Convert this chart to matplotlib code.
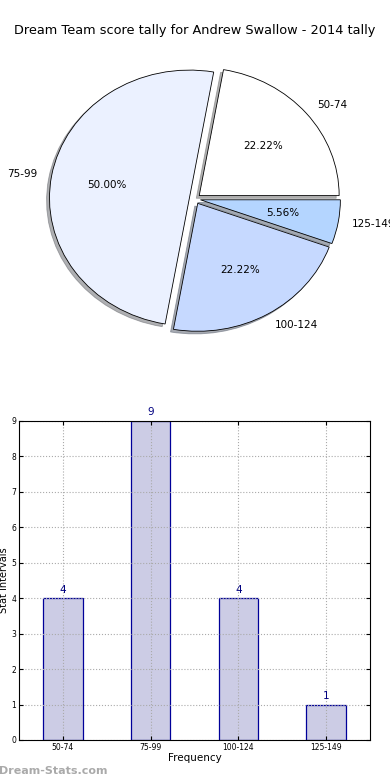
import matplotlib
matplotlib.use("Agg")
import matplotlib.pyplot as plt

categories = ['50-74', '75-99', '100-124', '125-149']
counts = [4, 9, 4, 1]
pie_colors = ['#FFFFFF', '#EBF1FF', '#C6D9FF', '#B4D5FF']
explode = [0.04, 0.04, 0.04, 0.04]

title = 'Dream Team score tally for Andrew Swallow - 2014 tally'

fig = plt.figure(figsize=(3.9, 7.8), dpi=100)

# pie, drawn unequal aspect like the old matplotlib output
ax1 = fig.add_axes([0.0513, 0.540, 0.897, 0.410])
wedges, texts, autotexts = ax1.pie(counts, labels=categories, colors=pie_colors,
                                   explode=explode, autopct='%1.2f%%',
                                   shadow={'ox': -0.015, 'oy': -0.015, 'shade': 0.6},
                                   startangle=0, counterclock=True,
                                   wedgeprops=dict(edgecolor='black', linewidth=0.6),
                                   textprops=dict(fontsize=7.5))
ax1.set_aspect('auto')
ax1.set_xlim(-1.25, 1.25)
ax1.set_ylim(-1.25, 1.25)
fig.text(0.5, 0.961, title, ha='center', va='center', fontsize=9.3)

# bar chart
ax2 = fig.add_axes([0.0487, 0.0513, 0.9, 0.409])
x = range(len(categories))
ax2.bar(x, counts, width=0.45, color='#CCCCE5', edgecolor='#000099', linewidth=0.9)
for xi, c in zip(x, counts):
    ax2.text(xi, c + 0.1, str(c), ha='center', va='bottom', color='#000080', fontsize=7.5)
ax2.set_xlim(-0.5, 3.5)
ax2.set_ylim(0, 9)
ax2.set_xticks(list(x))
ax2.set_xticklabels(categories)
ax2.set_yticks(range(10))
ax2.tick_params(labelsize=5.5, direction='in', top=True, right=True, length=3, pad=2)
ax2.grid(True, linestyle=':', color='#AAAAAA', linewidth=0.8)
ax2.set_xlabel('Frequency', fontsize=7.5, labelpad=1)
ax2.set_ylabel('Stat Intervals', fontsize=7, labelpad=2)

fig.text(-0.003, 0.012, 'Dream-Stats.com', color='#AAAAAA', fontsize=8,
         fontweight='bold', ha='left', va='center')

fig.savefig('out.png', dpi=100)
